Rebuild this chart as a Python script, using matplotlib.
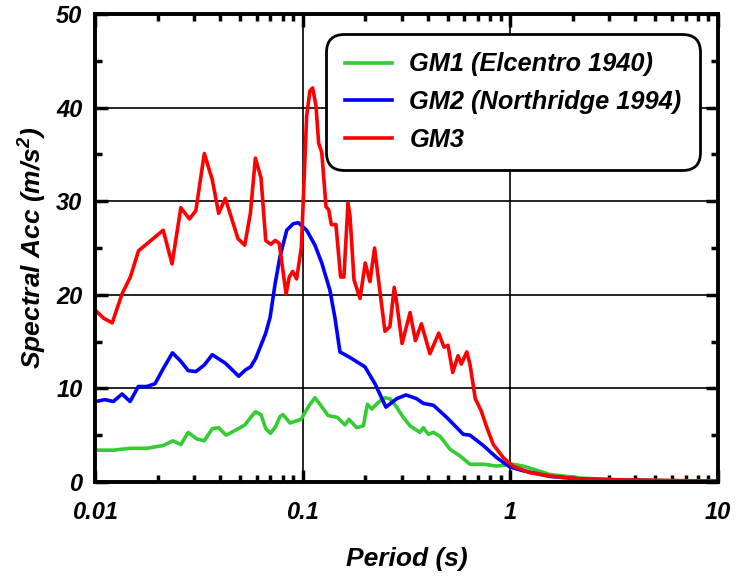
import numpy as np
import matplotlib
matplotlib.use("Agg")
import matplotlib.pyplot as plt
from matplotlib.ticker import FixedLocator, NullFormatter

plt.rcParams["font.family"] = ["Liberation Sans", "DejaVu Sans"]
plt.rcParams["font.weight"] = "bold"
plt.rcParams["font.style"] = "italic"
plt.rcParams["axes.labelweight"] = "bold"
plt.rcParams["mathtext.fontset"] = "custom"
plt.rcParams["mathtext.rm"] = "Liberation Sans:bold:italic"
plt.rcParams["mathtext.it"] = "Liberation Sans:bold:italic"
plt.rcParams["mathtext.bf"] = "Liberation Sans:bold:italic"

# GM1 (Elcentro 1940)
gm1_period = [0.0101, 0.01225, 0.01476, 0.01774, 0.0213, 0.0237, 0.0259, 0.0281, 0.0309,
              0.0336, 0.0367, 0.0394, 0.0428, 0.0481, 0.0527, 0.0557, 0.0592, 0.063,
              0.0664, 0.0700, 0.0740, 0.0778, 0.0804, 0.0869, 0.0982, 0.1076, 0.1146,
              0.1222, 0.1328, 0.1468, 0.160, 0.167, 0.182, 0.196, 0.205, 0.215, 0.231,
              0.249, 0.263, 0.2836, 0.305, 0.329, 0.367, 0.381, 0.403, 0.426, 0.458,
              0.512, 0.571, 0.639, 0.741, 0.860, 1.03, 1.153, 1.28, 1.55, 2.24, 3.26, 10.0]
gm1_acc = [3.4, 3.4, 3.6, 3.6, 3.9, 4.4, 4.0, 5.3, 4.6,
           4.4, 5.7, 5.8, 5.0, 5.6, 6.1, 6.8, 7.5, 7.2,
           5.7, 5.2, 5.9, 7.0, 7.2, 6.3, 6.7, 8.2, 9.0,
           8.2, 7.1, 6.9, 6.1, 6.7, 5.8, 6.0, 8.3, 7.8, 8.5,
           9.0, 8.9, 8.0, 6.9, 6.0, 5.3, 5.8, 5.1, 5.3, 4.9,
           3.5, 2.8, 1.9, 1.9, 1.7, 1.9, 1.7, 1.4, 0.8, 0.4, 0.25, 0.05]

# GM2 (Northridge 1994)
gm2_period = [0.0101, 0.01117, 0.01225, 0.0135, 0.01476, 0.01616, 0.01774, 0.01946, 0.0213,
              0.0236, 0.0259, 0.0281, 0.0306, 0.0336, 0.0367, 0.0424, 0.0492, 0.0532,
              0.0562, 0.0594, 0.0664, 0.0697, 0.0737, 0.0778, 0.0838, 0.0901, 0.0953,
              0.1045, 0.1146, 0.1236, 0.1352, 0.1429, 0.1512, 0.169, 0.1995, 0.2229,
              0.2517, 0.2836, 0.3144, 0.354, 0.381, 0.426, 0.494, 0.593, 0.639, 0.741,
              0.860, 0.995, 1.153, 1.55, 2.24, 4.7, 10.0]
gm2_acc = [8.6, 8.8, 8.6, 9.4, 8.6, 10.2, 10.2, 10.5, 12.1,
           13.8, 12.9, 11.9, 11.8, 12.5, 13.6, 12.7, 11.3, 12.0,
           12.3, 13.2, 15.9, 17.6, 21.2, 24.1, 26.9, 27.6, 27.7,
           26.9, 25.3, 23.4, 20.5, 17.6, 13.9, 13.3, 12.3, 10.5,
           8.0, 8.9, 9.3, 8.9, 8.4, 8.2, 6.9, 5.1, 5.0, 3.9,
           2.6, 1.6, 1.2, 0.6, 0.3, 0.15, 0.08]

# GM3
gm3_period = [0.0101, 0.011, 0.0121, 0.0135, 0.0148, 0.0162, 0.0213, 0.0235, 0.0259,
              0.0285, 0.0306, 0.0336, 0.0367, 0.0394, 0.0424, 0.0488, 0.0526, 0.056,
              0.0592, 0.063, 0.0664, 0.0702, 0.0738, 0.0771, 0.0832, 0.0862, 0.0895,
              0.0935, 0.0986, 0.1045, 0.1084, 0.1117, 0.1159, 0.1194, 0.1236, 0.1295,
              0.1334, 0.1374, 0.1446, 0.1523, 0.158, 0.1653, 0.169, 0.1767, 0.1889,
              0.2001, 0.2109, 0.222, 0.233, 0.249, 0.263, 0.276, 0.284, 0.301, 0.329,
              0.349, 0.373, 0.41, 0.452, 0.479, 0.501, 0.528, 0.56, 0.581, 0.617, 0.639,
              0.678, 0.724, 0.774, 0.828, 0.925, 1.03, 1.24, 1.55, 2.24, 4.7, 10.0]
gm3_acc = [18.3, 17.5, 17.0, 20.1, 21.9, 24.7, 26.9, 23.3, 29.3,
           28.1, 29.0, 35.1, 32.3, 28.7, 30.3, 26.0, 25.3, 28.7,
           34.6, 32.5, 25.8, 25.4, 25.8, 25.5, 20.1, 21.9, 22.5,
           21.7, 25.1, 39.1, 41.8, 42.1, 40.2, 36.2, 35.2, 29.4,
           29.1, 27.5, 27.5, 21.9, 21.9, 29.8, 28.4, 21.6, 19.6,
           23.4, 21.4, 25.0, 21.2, 16.1, 16.6, 20.8, 19.1, 14.8, 18.1,
           15.1, 16.9, 13.7, 15.9, 14.4, 14.6, 11.7, 13.5, 12.6, 13.9, 12.6,
           8.9, 7.6, 5.7, 4.0, 2.6, 1.7, 1.0, 0.64, 0.29, 0.18, 0.1]

fig = plt.figure(figsize=(7.38, 5.83), dpi=100)
ax = fig.add_axes([95 / 738, 101 / 583, 623 / 738, 468 / 583])

ax.plot(gm1_period, gm1_acc, color="#33cc33", lw=2.6, label="GM1 (Elcentro 1940)")
ax.plot(gm2_period, gm2_acc, color="#0000ff", lw=2.6, label="GM2 (Northridge 1994)")
ax.plot(gm3_period, gm3_acc, color="#ff0000", lw=2.6, label="GM3")

ax.set_xscale("log")
ax.set_xlim(0.01, 10)
ax.set_ylim(0, 50)

ax.set_xticks([0.01, 0.1, 1, 10])
ax.set_xticklabels(["0.01", "0.1", "1", "10"])
ax.xaxis.set_minor_locator(FixedLocator(
    [m * d for d in (0.01, 0.1, 1) for m in range(2, 10)]))
ax.xaxis.set_minor_formatter(NullFormatter())
ax.set_yticks([0, 10, 20, 30, 40, 50])
ax.set_yticks([5, 15, 25, 35, 45], minor=True)

ax.grid(True, which="major", color="black", lw=1.2)
ax.tick_params(which="both", direction="in", top=True, right=True, width=2.5,
               labelsize=17)
ax.tick_params(which="major", length=9)
ax.tick_params(which="minor", length=5)
ax.tick_params(axis="x", pad=14)
ax.tick_params(axis="y", pad=9)
for s in ax.spines.values():
    s.set_linewidth(2.8)

ax.set_xlabel("Period (s)", fontsize=19, fontweight="bold", labelpad=16)
ax.set_ylabel("Spectral Acc (m/s$^{2}$)", fontsize=19, fontweight="bold", labelpad=5)

leg = ax.legend(loc="upper right", bbox_to_anchor=(0.971, 0.957), borderaxespad=0,
                fontsize=18.3, handlelength=1.85, handletextpad=0.7,
                labelspacing=0.54, borderpad=0.72, framealpha=1, fancybox=True)
frame = leg.get_frame()
frame.set_edgecolor("black")
frame.set_linewidth(2.0)
frame.set_boxstyle("round", pad=0, rounding_size=0.7)

fig.savefig("out.png", dpi=100)
